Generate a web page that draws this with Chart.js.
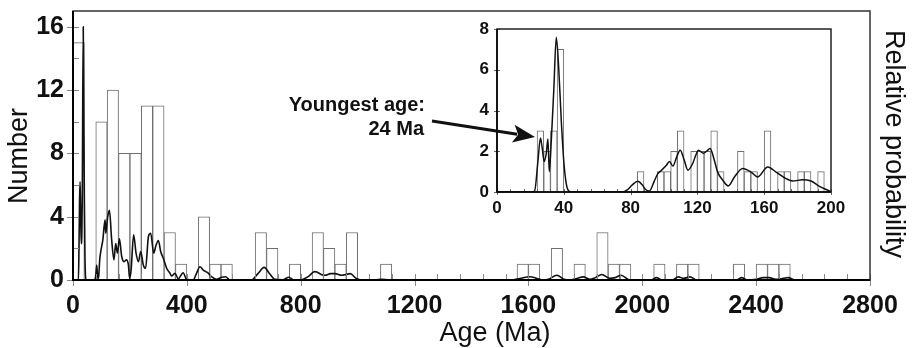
<!DOCTYPE html>
<html>
<head>
<meta charset="utf-8">
<script src="https://cdn.jsdelivr.net/npm/chart.js@4.4.0/dist/chart.umd.min.js"></script>
<style>
  html, body { margin: 0; padding: 0; background: #fff; }
  #wrap { position: relative; width: 917px; height: 348px; }
  #main { position: absolute; left: 0; top: 0; }
  #inset { position: absolute; left: 260px; top: 0; }
</style>
</head>
<body>
<div id="wrap">
  <canvas id="main" width="917" height="348"></canvas>
  <canvas id="inset" width="600" height="230"></canvas>
</div>
<script>
// ---- main histogram, 40 Ma bins (bin start, count) ----
const mainBinWidth = 40;
const mainBins = [0,80,120,160,200,240,280,320,360,440,480,520,640,680,760,840,880,920,960,1080,
                  1560,1600,1680,1760,1840,1880,1920,2040,2120,2160,2320,2400,2440,2480];
const mainCounts = [15,10,12,8,8,11,11,3,1,4,1,1,3,2,1,3,2,1,3,1,
                    1,1,2,1,3,1,1,1,1,1,1,1,1,1];

// ---- main probability curve ----
const mainKdeAge = [0,19,21,23,25,27,29,31,32.5,36,38,40,42,44,46,76,80,83.5,87,90,94,97.5,104.6,112.7,115,122,128,136,144,150,156,163,171,179.4,187.6,194.6,199,204,213,221.5,229.7,238,247,255,265,273,283.5,291.7,300,308,317.4,329,341,346,358,370,387,399,422,434,446,457.5,473,487,504,522,536,551,627,650.5,671.6,691.5,709,738,758,777,797,826,849,857,872,886,905,921,944,960,974,995,1015,1060,1085,1110,1540,1570,1606,1630,1650,1670,1700,1725,1745,1770,1793,1815,1835,1858,1885,1905,1925,1957,2030,2050,2070,2105,2127,2145,2168,2190,2330,2349,2370,2400,2425,2445,2470,2495,2513,2535,2800];
const mainKdeProb = [0,0,2,5,6.2,4,2.3,2.8,5,16,10,5,1.5,0.2,0,0,0.3,0.95,0.1,0.2,1.3,1.8,2.5,3.8,2.95,4.0,4.4,2.5,1.27,2.3,1.7,2.6,1.5,1.16,1.27,0.95,0.1,0.6,2.85,1.7,1.16,1.8,0.95,0.74,2.75,2.95,1.7,2.2,2.5,1.8,1.37,0.74,0.42,0.25,0.42,0.08,0.46,0.04,0,0.42,0.84,0.63,0.46,0.21,0.04,0.17,0.21,0,0,0.42,0.8,0.38,0.04,0.02,0.17,0,0,0.21,0.53,0.5,0.35,0.3,0.4,0.4,0.3,0.35,0.4,0.1,0,0,0.05,0,0,0.1,0.21,0.1,0,0.05,0.3,0.05,0,0.1,0.2,0.05,0.15,0.35,0.1,0.15,0.3,0,0,0.15,0,0,0.2,0.1,0.2,0,0,0.15,0,0.05,0.15,0.15,0.05,0.1,0.15,0,0];

// ---- inset histogram, 4 Ma bins ----
const insetBinWidth = 4;
const insetBins = [24,28,32,36,84,96,100,104,108,116,120,124,128,132,144,148,152,160,168,172,180,184,192];
const insetCounts = [3,2,3,7,1,1,1,2,3,2,2,2,3,1,2,1,1,3,1,1,1,1,1];

// ---- inset probability curve ----
const insetKdeAge = [0,20,22.5,24.5,26,27,28.3,29.5,30.5,31.3,32.5,34,35.5,37,38.5,40,41.5,43,45,75,78,81,84.3,87,89,91.3,94,96.3,98.3,101.3,103.3,105.3,107.5,109.7,112,114.3,117.2,119,120.6,123.6,125.5,127.6,130,132,135,138.5,142.2,147.1,152.1,156.1,162.1,167.1,173.1,177,183,188,193,199,200];
const insetKdeProb = [0,0,0.05,1.5,2.65,2.2,1.5,1.9,2.6,1.0,2.5,5,7.6,6,3.5,1.5,0.4,0.05,0,0,0.1,0.35,0.53,0.35,0.12,0.05,0.5,0.9,1.05,1.3,1.5,1.27,1.7,2.05,1.6,1.07,1.4,1.8,2.05,1.9,2.0,2.13,1.6,1.0,0.6,0.3,0.74,1.15,0.98,0.74,1.23,0.98,0.66,0.54,0.6,0.54,0.28,0.05,0];

const FONT = "'Liberation Sans', Arial, sans-serif";
Chart.defaults.font.family = FONT;

function isMul(v, step) {
  const r = v / step;
  return Math.abs(r - Math.round(r)) < 1e-6;
}

// axis lines, box and major/minor tick marks
const framePlugin = {
  id: 'frame',
  afterDatasetsDraw(chart, args, o) {
    const {ctx, chartArea: a} = chart;
    const x = chart.scales.x, y = chart.scales.y;
    ctx.save();
    ctx.strokeStyle = o.tickColor;
    ctx.lineWidth = 1;
    ctx.beginPath();
    for (let v = x.min; v <= x.max + 1e-6; v += o.xMinor) {
      const px = Math.round(x.getPixelForValue(v)) + 0.5;
      const major = isMul(v, o.xMajor);
      ctx.moveTo(px, a.bottom - (major ? o.majorIn : o.minorIn));
      ctx.lineTo(px, a.bottom + (major ? o.majorOut : 0));
    }
    for (let v = y.min; v <= y.max + 1e-6; v += o.yMinor) {
      const py = Math.round(y.getPixelForValue(v)) + 0.5;
      const major = isMul(v, o.yMajor);
      ctx.moveTo(a.left - (major ? o.majorOut : 0), py);
      ctx.lineTo(a.left + (major ? o.majorIn : o.minorIn), py);
    }
    ctx.stroke();
    ctx.strokeStyle = o.frameColor;
    ctx.lineWidth = o.frameWidth;
    ctx.strokeRect(a.left, a.top, a.width, a.height);
    ctx.strokeStyle = '#000';
    ctx.lineWidth = o.axisWidth;
    ctx.beginPath();
    ctx.moveTo(a.left, a.top);
    ctx.lineTo(a.left, a.bottom);
    ctx.lineTo(a.right, a.bottom);
    ctx.stroke();
    ctx.restore();
  }
};

// axis titles of the main chart
const titlesPlugin = {
  id: 'titles',
  afterDraw(chart) {
    const ctx = chart.ctx;
    ctx.save();
    ctx.fillStyle = '#111';
    ctx.font = '27px ' + FONT;
    ctx.textAlign = 'center';
    ctx.textBaseline = 'middle';
    ctx.save();
    ctx.translate(20, 156);
    ctx.rotate(-Math.PI / 2);
    ctx.fillText('Number', 0, 0);
    ctx.restore();
    ctx.save();
    ctx.translate(893, 144);
    ctx.rotate(Math.PI / 2);
    ctx.fillText('Relative probability', 0, 0);
    ctx.restore();
    ctx.textBaseline = 'alphabetic';
    ctx.fillText('Age (Ma)', 495, 341);
    ctx.restore();
  }
};

// "Youngest age" note with its arrow, drawn on the inset canvas
const notePlugin = {
  id: 'note',
  afterDraw(chart) {
    const ctx = chart.ctx;
    ctx.save();
    ctx.fillStyle = '#111';
    ctx.font = 'bold 20px ' + FONT;
    ctx.textAlign = 'right';
    ctx.fillText('Youngest age:', 165, 111);
    ctx.fillText('24 Ma', 164, 135);
    const x0 = 172, y0 = 121, x1 = 275, y1 = 137;
    const ang = Math.atan2(y1 - y0, x1 - x0);
    const hl = 22, hw = 9;
    const bx = x1 - hl * Math.cos(ang), by = y1 - hl * Math.sin(ang);
    ctx.strokeStyle = '#111';
    ctx.lineWidth = 3;
    ctx.beginPath();
    ctx.moveTo(x0, y0);
    ctx.lineTo(bx + 4 * Math.cos(ang), by + 4 * Math.sin(ang));
    ctx.stroke();
    ctx.beginPath();
    ctx.moveTo(x1, y1);
    ctx.lineTo(bx - hw * Math.sin(ang), by + hw * Math.cos(ang));
    ctx.lineTo(bx + 5 * Math.cos(ang), by + 5 * Math.sin(ang));
    ctx.lineTo(bx + hw * Math.sin(ang), by - hw * Math.cos(ang));
    ctx.closePath();
    ctx.fill();
    ctx.restore();
  }
};

function makeChart(id, o) {
  const bars = o.bins.map((b, i) => ({x: b + o.binWidth / 2, y: o.counts[i]}));
  const curve = o.kdeAge.map((a, i) => ({x: a, y: o.kdeProb[i]}));
  return new Chart(document.getElementById(id), {
    type: 'bar',
    data: {
      datasets: [{
        type: 'line',
        data: curve,
        yAxisID: 'yProb',
        borderColor: '#111',
        borderWidth: o.lineWidth,
        pointRadius: 0,
        cubicInterpolationMode: 'monotone',
        fill: false,
        order: 0
      }, {
        type: 'bar',
        data: bars,
        backgroundColor: '#fff',
        borderColor: '#6e6e6e',
        borderWidth: 1,
        barPercentage: 1,
        categoryPercentage: 1,
        order: 1
      }]
    },
    options: {
      responsive: false,
      animation: false,
      layout: {padding: o.padding},
      plugins: {
        legend: {display: false},
        tooltip: {enabled: false},
        frame: o.frame
      },
      scales: {
        x: {
          type: 'linear', min: 0, max: o.xMax, offset: false,
          grid: {display: false, drawTicks: false},
          border: {display: false},
          ticks: {stepSize: o.xStep, padding: o.xPad, color: '#111', autoSkip: false, maxRotation: 0,
                  font: {size: o.tickSize, weight: 'bold'}, callback: v => v},
          afterFit: s => { s.height = o.xHeight; s.paddingLeft = 0; s.paddingRight = 0; }
        },
        y: {
          min: 0, max: o.yMax,
          grid: {display: false, drawTicks: false},
          border: {display: false},
          ticks: {stepSize: o.yStep, includeBounds: false, padding: o.yPad, color: '#111',
                  font: {size: o.tickSize, weight: 'bold'}, callback: v => v},
          afterFit: s => { s.width = o.yWidth; s.paddingTop = 0; s.paddingBottom = 0; }
        },
        yProb: {display: false, min: 0, max: o.yMax}
      }
    },
    plugins: [framePlugin].concat(o.extra)
  });
}

makeChart('main', {
  bins: mainBins, counts: mainCounts, binWidth: mainBinWidth,
  kdeAge: mainKdeAge, kdeProb: mainKdeProb, lineWidth: 1.6,
  xMax: 2800, xStep: 400, yMax: 17, yStep: 4,
  tickSize: 25, xPad: 11, yPad: 9, xHeight: 68, yWidth: 73,
  padding: {top: 11, right: 47, left: 0, bottom: 0},
  frame: {tickColor: '#888', xMinor: 80, xMajor: 400, yMinor: 2, yMajor: 4,
          majorIn: 6, minorIn: 6, majorOut: 6, frameColor: '#333', frameWidth: 1.5, axisWidth: 2},
  extra: [titlesPlugin]
});

makeChart('inset', {
  bins: insetBins, counts: insetCounts, binWidth: insetBinWidth,
  kdeAge: insetKdeAge, kdeProb: insetKdeProb, lineWidth: 1.5,
  xMax: 200, xStep: 40, yMax: 8, yStep: 2,
  tickSize: 17, xPad: 6, yPad: 8, xHeight: 38, yWidth: 237,
  padding: {top: 29, right: 29, left: 0, bottom: 0},
  frame: {tickColor: '#666', xMinor: 8, xMajor: 40, yMinor: 2, yMajor: 2,
          majorIn: 3, minorIn: 3, majorOut: 3, frameColor: '#222', frameWidth: 1.5, axisWidth: 1.5},
  extra: [notePlugin]
});
</script>
</body>
</html>
